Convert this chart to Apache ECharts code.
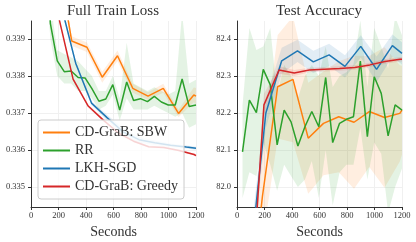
<!DOCTYPE html>
<html><head><meta charset="utf-8">
<script src="https://cdn.jsdelivr.net/npm/echarts@6/dist/echarts.min.js"></script>
<style>html,body{margin:0;padding:0;background:#fff}#c{width:416px;height:242px}</style>
</head><body><div id="c"></div>
<script>
const names = ['CD-GraB: SBW', 'RR', 'LKH-SGD', 'CD-GraB: Greedy'];
const colors = ['#ff7f0e', '#2ca02c', '#1f77b4', '#d62728'];
const titles = ['Full Train Loss', 'Test Accuracy'];
const secTicks = [0, 200, 400, 600, 800, 1000, 1200];
const lossTicks = [0.335, 0.336, 0.337, 0.338, 0.339];
const accTicks = [82.0, 82.1, 82.2, 82.3, 82.4];

// CD-GraB: SBW
const sbwT = [74, 185, 296, 407, 518, 629, 740, 851, 962, 1073, 1184, 1200];
const sbwLoss = [0.3450, 0.3414, 0.33895, 0.33878, 0.33797, 0.33855, 0.33767, 0.33746, 0.33767, 0.33699, 0.33749, 0.33746];
const sbwLossSpread = [0.0002, 0.0002, 0.00013, 0.00013, 0.00015, 0.00014, 0.00012, 0.0001, 0.00012, 0.0001, 0.0002, 0.00022];
const sbwAcc = [81.6, 81.975, 82.271, 82.291, 82.132, 82.172, 82.190, 82.175, 82.204, 82.188, 82.199, 82.208];
const sbwAccSpread = [0.1, 0.12, 0.14, 0.17, 0.15, 0.14, 0.15, 0.18, 0.15, 0.19, 0.13, 0.12];

// RR
const rrT = [40, 90, 141, 191, 242, 292, 343, 393, 443, 494, 544, 595, 645, 696, 746, 796, 847, 897, 948, 998, 1049, 1099, 1150, 1200];
const rrLoss = [0.3450, 0.3425, 0.33942, 0.33841, 0.33812, 0.33814, 0.33796, 0.33795, 0.33766, 0.33732, 0.33738, 0.33777, 0.33708, 0.33784, 0.33734, 0.33739, 0.33731, 0.33745, 0.33730, 0.33722, 0.33722, 0.33792, 0.33718, 0.33722];
const rrLossHi = [0.3460, 0.3435, 0.3400, 0.3387, 0.3386, 0.3385, 0.3384, 0.3382, 0.3380, 0.3376, 0.3376, 0.3380, 0.3374, 0.3389, 0.3378, 0.3377, 0.3376, 0.3377, 0.3376, 0.3375, 0.3376, 0.3397, 0.3378, 0.3379];
const rrLossLo = [0.3440, 0.3415, 0.3390, 0.3380, 0.3378, 0.3378, 0.3376, 0.3376, 0.3374, 0.3371, 0.3372, 0.3375, 0.3368, 0.3374, 0.3371, 0.3371, 0.3371, 0.3372, 0.3371, 0.3370, 0.3369, 0.3370, 0.3366, 0.3367];
const rrAcc = [82.095, 82.235, 82.201, 82.318, 82.276, 82.114, 82.208, 82.176, 82.111, 82.163, 82.204, 82.163, 82.296, 82.120, 82.172, 82.183, 82.190, 82.340, 82.136, 82.298, 82.253, 82.138, 82.222, 82.208];
const rrAccHi = [82.22, 82.43, 82.37, 82.38, 82.43, 82.25, 82.33, 82.30, 82.24, 82.30, 82.33, 82.30, 82.38, 82.27, 82.30, 82.31, 82.33, 82.45, 82.27, 82.43, 82.38, 82.32, 82.46, 82.41];
const rrAccLo = [81.97, 82.04, 82.03, 82.12, 82.06, 81.99, 82.06, 82.03, 82.00, 82.02, 82.07, 81.97, 82.10, 81.95, 82.04, 82.06, 82.06, 82.16, 82.02, 82.12, 82.09, 81.93, 82.00, 82.05];

// LKH-SGD
const lkhT = [95, 210, 325, 440, 555, 670, 785, 900, 1015, 1130, 1200];
const lkhLoss = [0.3440, 0.34005, 0.33835, 0.33727, 0.33687, 0.33649, 0.33628, 0.33620, 0.33613, 0.33608, 0.33605];
const lkhLossSpread = [0.0001, 0.0001, 0.00006, 0.00005, 0.00008, 0.0001, 0.00008, 0.00006, 0.00005, 0.00004, 0.00004];
const lkhAcc = [81.80, 82.20, 82.341, 82.368, 82.338, 82.357, 82.326, 82.380, 82.318, 82.382, 82.361];
const lkhAccSpread = [0.05, 0.04, 0.035, 0.03, 0.03, 0.03, 0.03, 0.03, 0.035, 0.03, 0.03];

// CD-GraB: Greedy
const grT = [86, 196, 306, 416, 526, 636, 746, 856, 966, 1076, 1186, 1200];
const grLoss = [0.3440, 0.33968, 0.33792, 0.33719, 0.33681, 0.33646, 0.33624, 0.33609, 0.33607, 0.33599, 0.33588, 0.33585];
const grLossSpread = [0.0001, 0.00005, 0.00004, 0.00004, 0.00004, 0.00004, 0.00003, 0.00003, 0.00003, 0.00003, 0.00003, 0.00003];
const grAcc = [81.6, 82.222, 82.316, 82.308, 82.316, 82.318, 82.320, 82.323, 82.330, 82.339, 82.345, 82.345];
const grAccSpread = [0.05, 0.03, 0.01, 0.008, 0.006, 0.006, 0.006, 0.006, 0.006, 0.006, 0.006, 0.006];

const FONT = '"Liberation Serif", "DejaVu Serif", serif';
const TXT = '#333';

function hexA(hex, a) {
  const n = parseInt(hex.slice(1), 16);
  return 'rgba(' + (n >> 16) + ',' + ((n >> 8) & 255) + ',' + (n & 255) + ',' + a + ')';
}
function lo(v, s) { return v.map((x, i) => x - s[i]); }
function hi(v, s) { return v.map((x, i) => x + s[i]); }

function band(g, t, low, high, color) {
  return {
    type: 'custom', xAxisIndex: g, yAxisIndex: g, silent: true, z: 1, clip: true,
    data: t.map((x, i) => [x, low[i], high[i]]),
    encode: { x: 0, y: [1, 2] },
    renderItem: function (params, api) {
      if (params.dataIndex !== 0) return null;
      const pts = [];
      for (let i = 0; i < t.length; i++) pts.push(api.coord([t[i], low[i]]));
      for (let i = t.length - 1; i >= 0; i--) pts.push(api.coord([t[i], high[i]]));
      const cs = params.coordSys;
      return {
        type: 'polygon', shape: { points: pts },
        style: { fill: hexA(color, 0.13), stroke: null },
        clipPath: { type: 'rect', shape: { x: cs.x, y: cs.y, width: cs.width, height: cs.height } }
      };
    }
  };
}
function line(g, name, t, v, color) {
  return {
    type: 'line', name: name, xAxisIndex: g, yAxisIndex: g, z: 3, clip: true,
    data: t.map((x, i) => [x, v[i]]),
    symbol: 'none', showSymbol: false,
    lineStyle: { width: 1.5, color: color }, itemStyle: { color: color }
  };
}
function xAx(g) {
  return {
    type: 'value', gridIndex: g, min: 0, max: 1200,
    axisLine: { show: true, onZero: false, lineStyle: { color: TXT, width: 1 } },
    axisTick: { show: true, customValues: secTicks, length: 3, lineStyle: { color: TXT, width: 1 } },
    axisLabel: { customValues: secTicks, fontSize: 8.5, color: TXT, margin: 4, fontFamily: FONT,
      formatter: v => String(Math.round(v)) },
    splitLine: { show: true, lineStyle: { color: '#f0f0f0', width: 1 } },
    name: 'Seconds', nameLocation: 'middle', nameGap: 13,
    nameTextStyle: { fontSize: 14, fontFamily: FONT, color: TXT }
  };
}
function yAx(g, mn, mx, ticks, dec) {
  return {
    type: 'value', gridIndex: g, min: mn, max: mx,
    axisLine: { show: true, onZero: false, lineStyle: { color: TXT, width: 1 } },
    axisTick: { show: true, customValues: ticks, length: 3, lineStyle: { color: TXT, width: 1 } },
    axisLabel: { customValues: ticks, fontSize: 8.5, color: TXT, margin: 6, fontFamily: FONT,
      formatter: v => Number(v).toFixed(dec) },
    splitLine: { show: true, lineStyle: { color: '#f0f0f0', width: 1 } }
  };
}

const chart = echarts.init(document.getElementById('c'), null, { renderer: 'canvas' });
const series = [
  band(0, sbwT, lo(sbwLoss, sbwLossSpread), hi(sbwLoss, sbwLossSpread), colors[0]),
  band(0, rrT, rrLossLo, rrLossHi, colors[1]),
  band(0, lkhT, lo(lkhLoss, lkhLossSpread), hi(lkhLoss, lkhLossSpread), colors[2]),
  band(0, grT, lo(grLoss, grLossSpread), hi(grLoss, grLossSpread), colors[3]),
  band(1, sbwT, lo(sbwAcc, sbwAccSpread), hi(sbwAcc, sbwAccSpread), colors[0]),
  band(1, rrT, rrAccLo, rrAccHi, colors[1]),
  band(1, lkhT, lo(lkhAcc, lkhAccSpread), hi(lkhAcc, lkhAccSpread), colors[2]),
  band(1, grT, lo(grAcc, grAccSpread), hi(grAcc, grAccSpread), colors[3]),
  line(0, names[0], sbwT, sbwLoss, colors[0]),
  line(0, names[1], rrT, rrLoss, colors[1]),
  line(0, names[2], lkhT, lkhLoss, colors[2]),
  line(0, names[3], grT, grLoss, colors[3]),
  line(1, names[0], sbwT, sbwAcc, colors[0]),
  line(1, names[1], rrT, rrAcc, colors[1]),
  line(1, names[2], lkhT, lkhAcc, colors[2]),
  line(1, names[3], grT, grAcc, colors[3])
];
chart.setOption({
  animation: false,
  backgroundColor: '#fff',
  grid: [
    { left: 31, top: 21, width: 165, height: 186, containLabel: false, outerBoundsMode: 'none' },
    { left: 237, top: 21, width: 165, height: 186, containLabel: false, outerBoundsMode: 'none' }
  ],
  xAxis: [xAx(0), xAx(1)],
  yAxis: [yAx(0, 0.33446, 0.33949, lossTicks, 3), yAx(1, 81.946, 82.4486, accTicks, 1)],
  legend: {
    data: names, orient: 'vertical', left: 38, top: 120,
    icon: 'rect', itemWidth: 27, itemHeight: 2, itemGap: 3,
    padding: [5, 6, 5, 5],
    backgroundColor: 'rgba(255,255,255,0.8)', borderColor: '#cccccc', borderWidth: 1, borderRadius: 3,
    textStyle: { fontSize: 14, fontFamily: FONT, color: TXT, lineHeight: 15 },
    z: 10
  },
  graphic: [
    { type: 'text', x: 113, y: 11, z: 10, style: { text: titles[0], font: '15px ' + FONT, fill: TXT, textAlign: 'center', textVerticalAlign: 'middle' } },
    { type: 'text', x: 319, y: 11, z: 10, style: { text: titles[1], font: '15px ' + FONT, fill: TXT, textAlign: 'center', textVerticalAlign: 'middle' } }
  ],
  series: series
});
</script></body></html>
